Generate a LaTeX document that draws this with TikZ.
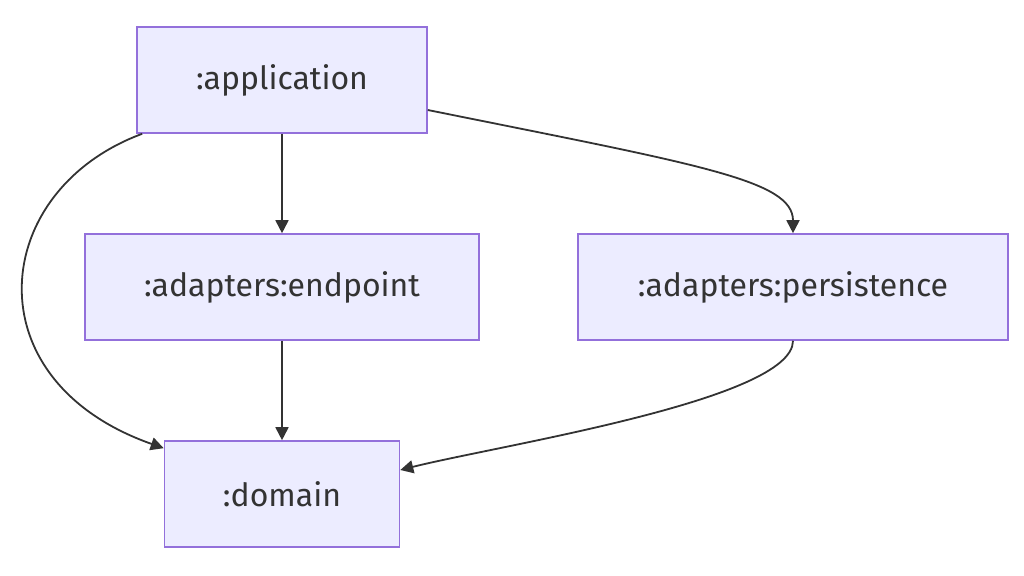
\documentclass[tikz,border=0pt]{standalone}
\usepackage{fontspec}
\setmainfont{Fira Sans}
\usetikzlibrary{arrows.meta}
\definecolor{boxfill}{HTML}{ECECFF}
\definecolor{boxline}{HTML}{9370DB}
\definecolor{linkcol}{HTML}{333333}
\tikzset{
  module/.style={draw=boxline, fill=boxfill, line width=0.8pt, minimum height=53pt,
    inner sep=0pt, font=\fontsize{16}{19}\selectfont, text=linkcol},
  link/.style={draw=linkcol, line width=0.9pt, -{Triangle[length=6.5pt,width=6.5pt]}}
}
\begin{document}
\begin{tikzpicture}[x=0.5pt, y=-0.5pt]
            \useasboundingbox (0,0) rectangle (1024,576);
            \node[module, minimum width=145pt] (app) at (282,80) {:application};
            \node[module, minimum width=197pt] (endp) at (282,287) {:adapters:endpoint};
            \node[module, minimum width=215pt] (pers) at (793,287) {:adapters:persistence};
            \node[module, minimum width=117.5pt] (dom) at (282,494) {:domain};
            \draw[link] (app) -- (endp);
            \draw[link] (endp) -- (dom);
            \draw[link] ([xshift=3pt]app.south west) .. controls (-10,190) and (-30,380) .. ([yshift=-4pt]dom.north west);
            \draw[link] ([yshift=-15pt]app.east) .. controls (700,165) and (793,180) .. (pers.north);
            \draw[link] (pers.south) .. controls (793,400) and (500,445) .. ([yshift=12pt]dom.east);
        \end{tikzpicture}
\end{document}
